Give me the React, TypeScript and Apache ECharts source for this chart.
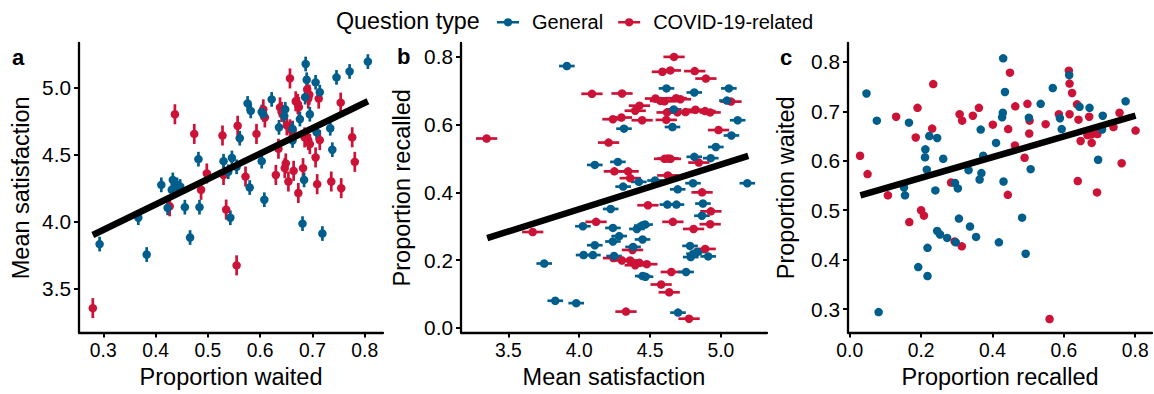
import { useEffect, useRef } from "react";
import * as echarts from "echarts";

// ---------- data ----------
const categories = ["General", "COVID-19-related"];
const panelLabels = ["a", "b", "c"];
const legendTitle = "Question type";

// panel a: proportion waited (x) vs mean satisfaction (y)
const waitedSatGeneral: [number, number][] = [
  [0.293, 3.832], [0.367, 4.029], [0.383, 3.754], [0.411, 4.275], [0.433, 4.312], [0.441, 4.275],
  [0.431, 4.238], [0.447, 4.263], [0.423, 4.103], [0.456, 4.108], [0.466, 3.881], [0.482, 4.467],
  [0.484, 4.108], [0.530, 4.452], [0.546, 4.476], [0.539, 4.373], [0.555, 4.410], [0.561, 4.624],
  [0.543, 4.029], [0.576, 4.884], [0.582, 4.828], [0.603, 4.452], [0.608, 4.164], [0.580, 4.255],
  [0.603, 4.820], [0.606, 4.803], [0.622, 4.914], [0.646, 4.791], [0.636, 4.705], [0.648, 4.840],
  [0.662, 4.607], [0.662, 4.694], [0.676, 4.767], [0.687, 5.179], [0.689, 5.061], [0.686, 4.931],
  [0.695, 4.803], [0.684, 4.312], [0.681, 3.985], [0.706, 5.042], [0.714, 4.968], [0.708, 4.668],
  [0.719, 3.911], [0.734, 4.698], [0.738, 4.538], [0.746, 5.079], [0.771, 5.123], [0.806, 5.197],
];
const waitedSatCovid: [number, number][] = [
  [0.280, 3.353], [0.437, 4.803], [0.474, 4.656], [0.528, 4.644], [0.557, 4.717], [0.555, 3.673],
  [0.593, 4.656], [0.606, 4.840], [0.609, 4.779], [0.638, 4.855], [0.641, 4.820], [0.657, 5.071],
  [0.668, 4.900], [0.672, 4.880], [0.674, 4.856], [0.690, 4.990], [0.694, 4.950], [0.692, 4.920],
  [0.712, 4.920], [0.754, 4.890], [0.776, 4.631], [0.781, 4.447], [0.498, 4.360], [0.487, 4.238],
  [0.535, 4.090], [0.427, 4.115], [0.530, 4.349], [0.572, 4.337], [0.630, 4.349], [0.635, 4.545],
  [0.649, 4.435], [0.647, 4.400], [0.654, 4.300], [0.664, 4.380], [0.673, 4.214], [0.682, 4.400],
  [0.651, 4.720], [0.657, 4.690], [0.662, 4.680], [0.685, 4.630], [0.692, 4.610], [0.695, 4.580],
  [0.714, 4.610], [0.706, 4.480], [0.709, 4.280], [0.736, 4.300], [0.755, 4.250],
];

// panel b: mean satisfaction (x) vs proportion recalled (y)
const satRecalledGeneral: [number, number][] = [
  [3.913, 0.773], [3.753, 0.190], [3.831, 0.080], [3.979, 0.073], [4.026, 0.300], [4.031, 0.215],
  [4.097, 0.215], [4.110, 0.244], [4.110, 0.481], [4.222, 0.351], [4.273, 0.490], [4.238, 0.295],
  [4.282, 0.271], [4.238, 0.255], [4.246, 0.212], [4.310, 0.417], [4.316, 0.588], [4.421, 0.431],
  [4.380, 0.239], [4.407, 0.292], [4.442, 0.302], [4.465, 0.305], [4.447, 0.261], [4.448, 0.153],
  [4.468, 0.151], [4.535, 0.435], [4.616, 0.707], [4.667, 0.645], [4.658, 0.593], [4.622, 0.364],
  [4.686, 0.364], [4.695, 0.409], [4.697, 0.045], [4.754, 0.165], [4.812, 0.695], [4.812, 0.505],
  [4.803, 0.427], [4.873, 0.367], [4.866, 0.331], [4.782, 0.242], [4.787, 0.209], [4.810, 0.219],
  [4.834, 0.224], [4.910, 0.211], [4.928, 0.501], [4.964, 0.534], [5.056, 0.707], [5.042, 0.671],
  [5.118, 0.613], [5.074, 0.568], [5.186, 0.427],
];
const satRecalledCovid: [number, number][] = [
  [3.347, 0.559], [3.672, 0.283], [4.090, 0.691], [4.302, 0.692], [4.207, 0.547], [4.238, 0.616],
  [4.298, 0.621], [4.395, 0.641], [4.425, 0.656], [4.444, 0.613], [4.248, 0.462], [4.345, 0.462],
  [4.360, 0.442], [4.119, 0.313], [4.485, 0.362], [4.242, 0.206], [4.301, 0.199], [4.359, 0.199],
  [4.395, 0.185], [4.425, 0.192], [4.477, 0.188], [4.376, 0.230], [4.330, 0.048], [4.538, 0.677],
  [4.573, 0.670], [4.602, 0.669], [4.614, 0.614], [4.587, 0.756], [4.643, 0.760], [4.669, 0.800],
  [4.684, 0.678], [4.714, 0.675], [4.620, 0.636], [4.693, 0.636], [4.750, 0.637], [4.820, 0.644],
  [4.888, 0.640], [4.924, 0.636], [4.602, 0.499], [4.626, 0.500], [4.644, 0.499], [4.625, 0.450],
  [4.661, 0.313], [4.815, 0.758], [4.894, 0.736], [4.983, 0.584], [5.071, 0.668], [4.844, 0.488],
  [4.867, 0.400], [4.929, 0.344], [4.924, 0.306], [4.807, 0.292], [4.889, 0.233], [4.650, 0.165],
  [4.578, 0.128], [4.635, 0.105], [4.775, 0.027],
];

// panel c: proportion recalled (x) vs proportion waited (y)
const recalledWaitedGeneral: [number, number][] = [
  [0.047, 0.736], [0.076, 0.681], [0.166, 0.677], [0.081, 0.294], [0.223, 0.650], [0.245, 0.646],
  [0.212, 0.623], [0.211, 0.607], [0.216, 0.582], [0.262, 0.604], [0.152, 0.546], [0.155, 0.530],
  [0.240, 0.540], [0.295, 0.555], [0.303, 0.544], [0.333, 0.581], [0.367, 0.663], [0.374, 0.610],
  [0.369, 0.575], [0.364, 0.562], [0.410, 0.636], [0.430, 0.807], [0.435, 0.739], [0.429, 0.697],
  [0.427, 0.688], [0.431, 0.558], [0.306, 0.483], [0.337, 0.467], [0.354, 0.446], [0.245, 0.458],
  [0.253, 0.451], [0.273, 0.444], [0.297, 0.435], [0.218, 0.424], [0.192, 0.385], [0.218, 0.367],
  [0.418, 0.435], [0.483, 0.485], [0.493, 0.412], [0.507, 0.583], [0.502, 0.687], [0.535, 0.715],
  [0.569, 0.747], [0.589, 0.686], [0.594, 0.664], [0.615, 0.773], [0.644, 0.709], [0.672, 0.707],
  [0.709, 0.691], [0.707, 0.663], [0.696, 0.602], [0.773, 0.720],
];
const recalledWaitedCovid: [number, number][] = [
  [0.029, 0.610], [0.050, 0.573], [0.107, 0.530], [0.130, 0.689], [0.190, 0.707], [0.185, 0.647],
  [0.234, 0.755], [0.231, 0.665], [0.200, 0.500], [0.208, 0.489], [0.167, 0.476], [0.284, 0.556],
  [0.294, 0.437], [0.314, 0.427], [0.308, 0.694], [0.315, 0.681], [0.345, 0.691], [0.362, 0.707],
  [0.401, 0.673], [0.449, 0.778], [0.444, 0.664], [0.443, 0.531], [0.464, 0.710], [0.463, 0.631],
  [0.490, 0.606], [0.498, 0.715], [0.504, 0.681], [0.503, 0.655], [0.549, 0.674], [0.560, 0.280],
  [0.586, 0.694], [0.614, 0.782], [0.616, 0.756], [0.623, 0.737], [0.616, 0.694], [0.637, 0.714],
  [0.641, 0.683], [0.647, 0.640], [0.639, 0.559], [0.671, 0.689], [0.666, 0.652], [0.678, 0.636],
  [0.677, 0.653], [0.694, 0.654], [0.693, 0.536], [0.739, 0.668], [0.756, 0.697], [0.762, 0.595],
  [0.801, 0.661],
];

// standard errors of mean satisfaction (pointrange half-widths)
const seGeneral = 0.055;
const seCovid = 0.075;

// fitted regression lines (endpoints)
const fitA: [number, number][] = [[0.28, 3.90], [0.806, 4.90]];
const fitB: [number, number][] = [[3.351, 0.265], [5.193, 0.508]];
const fitC: [number, number][] = [[0.030, 0.530], [0.801, 0.691]];

// axes
const ticksWaited = [0.3, 0.4, 0.5, 0.6, 0.7, 0.8];
const ticksSat = [3.5, 4.0, 4.5, 5.0];
const ticksRecalled = [0.0, 0.2, 0.4, 0.6, 0.8];
const titleWaited = "Proportion waited";
const titleSat = "Mean satisfaction";
const titleRecalled = "Proportion recalled";

// ---------- styling ----------
const BLUE = "#005E8C";
const RED = "#CC1236";
const FONT = "'Liberation Sans', Arial, Helvetica, sans-serif";
const ICON =
  "path://M0,3.2H22V5.6H0Z M6.9,4.4A4.1,4.1,0,1,1,15.1,4.4A4.1,4.1,0,1,1,6.9,4.4Z";

function xAx(gi: number, min: number, max: number, ticks: number[], name: string, gap: number) {
  return {
    type: "value", gridIndex: gi, min, max, name, nameLocation: "middle", nameGap: gap,
    nameTextStyle: { fontSize: 23.5, color: "#000", fontFamily: FONT },
    axisLine: { show: true, onZero: false, lineStyle: { color: "#000", width: 2.3 } },
    axisTick: { show: true, length: 5, customValues: ticks, lineStyle: { color: "#000", width: 2 } },
    axisLabel: {
      customValues: ticks, formatter: (v: number) => v.toFixed(1), margin: 8.5,
      fontSize: 19.3, color: "#000", fontFamily: FONT,
    },
    splitLine: { show: false },
  };
}
function yAx(gi: number, min: number, max: number, ticks: number[], name: string, gap: number) {
  return {
    type: "value", gridIndex: gi, min, max, name, nameLocation: "middle", nameGap: gap, nameRotate: 90,
    nameTextStyle: { fontSize: 23.5, color: "#000", fontFamily: FONT },
    axisLine: { show: true, onZero: false, lineStyle: { color: "#000", width: 2.3 } },
    axisTick: { show: true, length: 5, customValues: ticks, lineStyle: { color: "#000", width: 2 } },
    axisLabel: {
      customValues: ticks, formatter: (v: number) => v.toFixed(1), margin: 8,
      fontSize: 20.8, color: "#000", fontFamily: FONT,
    },
    splitLine: { show: false },
  };
}

function bars(name: string, color: string, data: [number, number][], se: number, gi: number, horizontal: boolean) {
  return {
    type: "custom", name, xAxisIndex: gi, yAxisIndex: gi, silent: true, z: 2,
    itemStyle: { color },
    data: data.map(([x, y]) => [x, y, se]),
    encode: { x: 0, y: 1 },
    renderItem: (_p: any, api: any) => {
      const x = api.value(0), y = api.value(1), e = api.value(2);
      const a = horizontal ? api.coord([x - e, y]) : api.coord([x, y - e]);
      const b = horizontal ? api.coord([x + e, y]) : api.coord([x, y + e]);
      return {
        type: "line",
        shape: { x1: a[0], y1: a[1], x2: b[0], y2: b[1] },
        style: { stroke: color, lineWidth: 2.7 },
      };
    },
  };
}
function dots(name: string, color: string, data: [number, number][], gi: number, z: number) {
  return {
    type: "scatter", name, xAxisIndex: gi, yAxisIndex: gi, data, symbol: "circle",
    symbolSize: 8.5, itemStyle: { color, opacity: 1 }, z, silent: true,
  };
}
function fit(data: [number, number][], gi: number) {
  return {
    type: "line", xAxisIndex: gi, yAxisIndex: gi, data, symbol: "none", silent: true, z: 10,
    lineStyle: { color: "#000", width: 6.5, cap: "butt" },
  };
}

function buildOption() {
  const [G, C] = categories;
  return {
    animation: false,
    backgroundColor: "#fff",
    title: {
      text: legendTitle, left: 336, top: 9.5, padding: 0,
      textStyle: { fontSize: 23.3, fontWeight: "normal", color: "#000", fontFamily: FONT },
    },
    legend: {
      left: 497, top: 12.3, padding: 0, itemWidth: 22, itemHeight: 8.5, itemGap: 15,
      selectedMode: false,
      data: [{ name: G, icon: ICON }, { name: C, icon: ICON }],
      textStyle: { fontSize: 20, color: "#000", fontFamily: FONT, padding: [0, 0, 0, 8] },
    },
    grid: [
      { left: 79, top: 43, width: 304, height: 293.5 },
      { left: 461, top: 43, width: 306, height: 293.5 },
      { left: 848, top: 43, width: 304, height: 293.5 },
    ],
    xAxis: [
      xAx(0, 0.2536, 0.8349, ticksWaited, titleWaited, 32),
      xAx(1, 3.166, 5.325, ticksSat, titleSat, 32),
      xAx(2, -0.0048, 0.847, ticksRecalled, titleRecalled, 32),
    ],
    yAxis: [
      yAx(0, 3.170, 5.336, ticksSat, titleSat, 46),
      yAx(1, -0.014, 0.841, ticksRecalled, titleRecalled, 47),
      yAx(2, 0.2526, 0.838, ticksWaited, titleWaited, 50),
    ],
    graphic: panelLabels.map((t, i) => ({
      type: "text",
      x: [12, 397, 780][i],
      y: [46.5, 45.5, 46.5][i],
      style: { text: t, fill: "#000", font: `bold 22px ${FONT}`, verticalAlign: "top" },
    })),
    series: [
      dots(G, BLUE, waitedSatGeneral, 0, 5),
      dots(C, RED, waitedSatCovid, 0, 4),
      bars(C, RED, waitedSatCovid, seCovid, 0, false),
      bars(G, BLUE, waitedSatGeneral, seGeneral, 0, false),
      fit(fitA, 0),
      dots(G, BLUE, satRecalledGeneral, 1, 5),
      dots(C, RED, satRecalledCovid, 1, 4),
      bars(C, RED, satRecalledCovid, seCovid, 1, true),
      bars(G, BLUE, satRecalledGeneral, seGeneral, 1, true),
      fit(fitB, 1),
      dots(G, BLUE, recalledWaitedGeneral, 2, 5),
      dots(C, RED, recalledWaitedCovid, 2, 4),
      fit(fitC, 2),
    ],
  };
}

export default function App() {
  const ref = useRef<HTMLDivElement>(null);
  useEffect(() => {
    if (!ref.current) return;
    const chart = echarts.init(ref.current, null, { renderer: "svg" });
    chart.setOption(buildOption() as any);
    return () => chart.dispose();
  }, []);
  return (
    <div
      ref={ref}
      style={{ position: "fixed", left: 0, top: 0, width: 1154, height: 394, background: "#fff" }}
    />
  );
}
